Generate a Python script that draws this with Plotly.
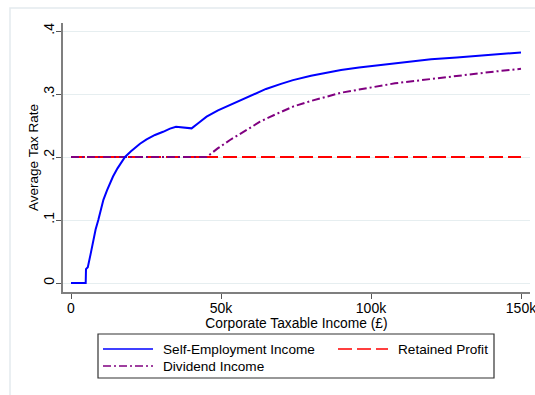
import plotly.graph_objects as go

# Corporate taxable income (thousands of £) and average tax rates
self_emp_income = [0, 4.9, 5.0, 5.3, 5.6, 6.5, 7.4, 8.2, 9.1, 10, 10.8, 12, 13, 14, 15.5, 17,
                   18, 20, 21.5, 23, 25.2, 28, 30.7, 33, 35, 37.5, 40.2, 42.5, 45.2, 49, 53,
                   58.6, 62, 65, 70, 74, 80, 85, 90, 96, 100, 110, 120, 128.6, 140, 150]
self_emp_rate = [0, 0, 0.022, 0.024, 0.025, 0.045, 0.068, 0.085, 0.1, 0.117, 0.132, 0.147,
                 0.159, 0.169, 0.182, 0.194, 0.2, 0.209, 0.215, 0.221, 0.228, 0.235, 0.240,
                 0.245, 0.248, 0.247, 0.2455, 0.254, 0.264, 0.274, 0.2825, 0.295, 0.302,
                 0.308, 0.316, 0.322, 0.329, 0.334, 0.338, 0.342, 0.344, 0.350, 0.355,
                 0.358, 0.362, 0.366]

retained_income = [0, 150]
retained_rate = [0.2, 0.2]

dividend_income = [0, 45.2, 49, 53, 58.6, 63, 66, 70, 74, 80, 85, 90, 96, 100, 108, 115,
                   120, 128.6, 140, 150]
dividend_rate = [0.2, 0.2, 0.214, 0.227, 0.243, 0.256, 0.263, 0.272, 0.28, 0.289, 0.296,
                 0.302, 0.307, 0.310, 0.317, 0.321, 0.324, 0.329, 0.335, 0.34]

x_tickvals = [0, 50, 100, 150]
x_ticktext = ["0", "50k", "100k", "150k"]
y_tickvals = [0, 0.1, 0.2, 0.3, 0.4]
y_ticktext = ["0", ".1", ".2", ".3", ".4"]

series_names = ["Self-Employment Income", "Retained Profit", "Dividend Income"]

BLUE = "#0000ff"
RED = "#ff0000"
PURPLE = "#800080"
RED_DASH = "14px,5px"
PURPLE_DASH = "8px,3px,2px,3px"
FONT = "Liberation Sans, Arial, sans-serif"

W, H = 535, 395
L, R, T, B = 63, 5, 23, 103
PW, PH = W - L - R, H - T - B


def px(x):
    return (x - L) / PW


def py(y):
    return (H - B - y) / PH


fig = go.Figure()
fig.add_trace(go.Scatter(x=retained_income, y=retained_rate, mode="lines",
                         line=dict(color=RED, width=2, dash=RED_DASH),
                         name=series_names[1], showlegend=False))
fig.add_trace(go.Scatter(x=dividend_income, y=dividend_rate, mode="lines",
                         line=dict(color=PURPLE, width=2, dash=PURPLE_DASH),
                         name=series_names[2], showlegend=False))
fig.add_trace(go.Scatter(x=self_emp_income, y=self_emp_rate, mode="lines",
                         line=dict(color=BLUE, width=2),
                         name=series_names[0], showlegend=False))

shapes = [
    # outer graph region frame
    dict(type="rect", xref="paper", yref="paper", x0=px(10), x1=px(545), y0=py(405), y1=py(8),
         line=dict(color="#e3eaee", width=1.5), layer="below"),
    # legend box
    dict(type="rect", xref="paper", yref="paper", x0=px(98), x1=px(494), y0=py(378), y1=py(334),
         line=dict(color="#333333", width=1.2), fillcolor="white"),
]

legend_rows = [
    (series_names[0], BLUE, "solid", 103, 349),
    (series_names[1], RED, RED_DASH, 338, 349),
    (series_names[2], PURPLE, PURPLE_DASH, 103, 366),
]
annotations = []
for name, color, dash, x0, yc in legend_rows:
    shapes.append(dict(type="line", xref="paper", yref="paper", x0=px(x0), x1=px(x0 + 50),
                       y0=py(yc), y1=py(yc), line=dict(color=color, width=1.5, dash=dash)))
    annotations.append(dict(xref="paper", yref="paper", x=px(x0 + 58), y=py(yc), text=name,
                            showarrow=False, xanchor="left", yanchor="middle",
                            font=dict(family=FONT, size=13.6, color="black")))

fig.update_layout(
    width=W, height=H,
    margin=dict(l=L, r=R, t=T, b=B),
    paper_bgcolor="white", plot_bgcolor="white",
    font=dict(family=FONT, size=13.5, color="black"),
    shapes=shapes, annotations=annotations,
)
fig.update_xaxes(
    range=[(L - 71) / 3, (L + PW - 71) / 3],
    tickvals=x_tickvals, ticktext=x_ticktext, automargin=False,
    showgrid=False, zeroline=False,
    showline=True, linecolor="#7f7f7f", linewidth=2,
    ticks="outside", ticklen=5, tickcolor="#555555", tickwidth=1,
    ticklabeloverflow="allow", ticklabelstandoff=-3,
    title=dict(text="Corporate Taxable Income (£)", standoff=0, font=dict(size=13.8)),
    tickfont=dict(size=14),
)
fig.update_yaxes(
    range=[(283 - (H - B)) / 630, (283 - T) / 630],
    tickvals=y_tickvals, ticktext=y_ticktext, tickangle=-90, automargin=False,
    showgrid=True, gridcolor="#e6eef0", gridwidth=1, zeroline=False,
    showline=True, linecolor="#7f7f7f", linewidth=2,
    ticks="outside", ticklen=5, tickcolor="#555555", tickwidth=1,
    ticklabelstandoff=-4,
    title=dict(text="Average Tax Rate", standoff=0, font=dict(size=13.5)),
    tickfont=dict(size=14),
)

fig.write_html("out.html")
